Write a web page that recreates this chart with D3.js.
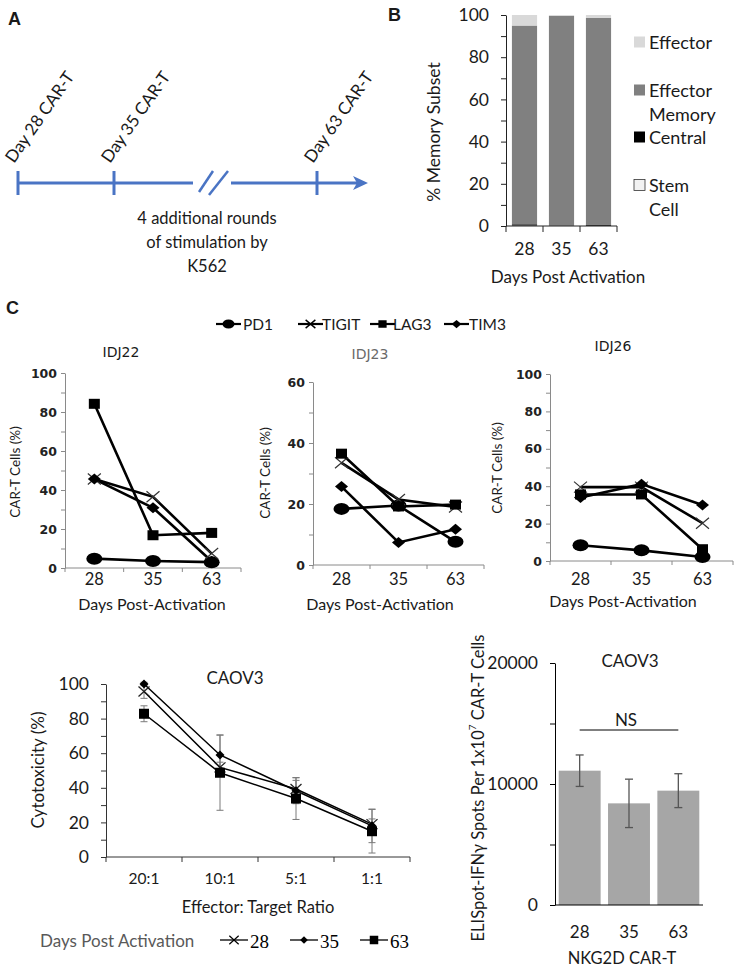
<!DOCTYPE html>
<html><head><meta charset="utf-8">
<script src="https://cdn.jsdelivr.net/npm/d3@7"></script>
<style>body{margin:0;background:#fff} svg{display:block}</style>
</head><body><svg id="fig" width="736" height="967"></svg>
<script>
// ---------- DATA ----------
const timelineLabels = ["Day 28 CAR-T", "Day 35 CAR-T", "Day 63 CAR-T"];
const timelineNote = ["4 additional rounds", "of stimulation by", "K562"];

const subsetDays = ["28", "35", "63"];
const subsetNames = ["Stem Cell", "Central", "Effector Memory", "Effector"];
const stemCell = [0.2, 0.1, 0.1];
const central = [0.6, 0.2, 0.6];
const effectorMemory = [94.2, 99.3, 97.9];
const effector = [5.0, 0.4, 1.4];

const exhaustDays = ["28", "35", "63"];
const exhaustMarkers = ["PD1", "TIGIT", "LAG3", "TIM3"];
const idj22PD1 = [4.8, 3.6, 3.0];
const idj22TIGIT = [45.6, 36.5, 7.4];
const idj22LAG3 = [84.2, 16.8, 18.0];
const idj22TIM3 = [45.6, 30.9, 3.5];
const idj23PD1 = [18.4, 19.5, 7.6];
const idj23TIGIT = [33.5, 21.5, 19.0];
const idj23LAG3 = [36.5, 19.2, 19.8];
const idj23TIM3 = [25.7, 7.4, 11.7];
const idj26PD1 = [8.4, 5.7, 2.1];
const idj26TIGIT = [39.5, 39.5, 20.2];
const idj26LAG3 = [35.6, 35.6, 6.3];
const idj26TIM3 = [34.0, 41.1, 30.0];

const ratios = ["20:1", "10:1", "5:1", "1:1"];
const cytoDays = ["28", "35", "63"];
const cyto28 = [95.7, 51.8, 39.3, 19.0];
const cyto28Err = [4.0, 3.0, 5.0, 3.0];
const cyto35 = [100.0, 59.0, 38.3, 18.0];
const cyto35Err = [1.0, 11.6, 7.5, 9.7];
const cyto63 = [82.8, 48.7, 33.8, 14.9];
const cyto63Err = [4.6, 21.7, 12.1, 12.6];

const elispotDays = ["28", "35", "63"];
const elispotMean = [11100, 8400, 9450];
const elispotErr = [1300, 2000, 1400];

// ---------- HELPERS ----------
const svg = d3.select("#fig");
svg.append("rect").attr("width", 736).attr("height", 967).attr("fill", "#fff");
const SANS = "Lato, 'Open Sans', sans-serif";
const VERD = "'DejaVu Sans', sans-serif";

function txt(g, x, y, s, o = {}) {
  return g.append("text").attr("x", x).attr("y", y).text(s)
    .attr("font-family", o.font || SANS).attr("font-size", o.size || 16)
    .attr("font-weight", o.weight || "normal")
    .attr("fill", o.fill || "#1a1a1a").attr("text-anchor", o.anchor || "middle")
    .attr("dominant-baseline", o.baseline || "auto");
}
function vtxt(g, x, y, s, o = {}) {
  return g.append("text").attr("transform", `translate(${x},${y}) rotate(-90)`).text(s)
    .attr("font-family", o.font || SANS).attr("font-size", o.size || 16)
    .attr("fill", o.fill || "#1a1a1a").attr("text-anchor", "middle")
    .attr("dominant-baseline", "central");
}
function leftAxis(g, y, x0, ticks, labelEvery, o) {
  const ax = d3.axisLeft(y).tickValues(ticks)
    .tickFormat(d => (d % labelEvery === 0 ? d : ""))
    .tickSize(o.tickSize || 5).tickPadding(o.pad || 4).tickSizeOuter(0);
  const a = g.append("g").attr("transform", `translate(${x0},0)`).call(ax);
  a.attr("font-family", o.font || SANS).attr("font-size", o.size || 16);
  a.select(".domain").attr("stroke", o.color).attr("stroke-width", o.sw || 1);
  a.selectAll(".tick line").attr("stroke", o.color).attr("stroke-width", o.sw || 1);
  a.selectAll(".tick text").attr("fill", o.fill || "#1a1a1a").attr("font-weight", o.weight || "normal");
  return a;
}
function bandAxis(g, x, y0, o) {
  const r = x.range();
  g.append("line").attr("x1", r[0]).attr("x2", r[1]).attr("y1", y0).attr("y2", y0)
    .attr("stroke", o.color).attr("stroke-width", o.sw || 1);
  const gap = (x.step() - x.bandwidth()) / 2;
  const bounds = x.domain().map(d => x(d) - gap).concat([r[1]]);
  g.selectAll(null).data(bounds).enter().append("line")
    .attr("x1", d => d).attr("x2", d => d).attr("y1", y0).attr("y2", y0 + (o.tick || 5))
    .attr("stroke", o.color).attr("stroke-width", o.sw || 1);
  x.domain().forEach(d => txt(g, x(d) + x.bandwidth() / 2, o.labelY, d,
    { size: o.size || 16, font: o.font || SANS, baseline: "central" }));
}
function marker(g, type, cx, cy, w, h, o = {}) {
  const col = o.color || "#000";
  if (type === "circle") {
    g.append("ellipse").attr("cx", cx).attr("cy", cy).attr("rx", w / 2).attr("ry", h / 2).attr("fill", col);
  } else if (type === "square") {
    g.append("rect").attr("x", cx - w / 2).attr("y", cy - h / 2).attr("width", w).attr("height", h).attr("fill", col);
  } else if (type === "diamond") {
    g.append("path").attr("d", `M${cx - w / 2},${cy}L${cx},${cy - h / 2}L${cx + w / 2},${cy}L${cx},${cy + h / 2}Z`).attr("fill", col);
  } else if (type === "x") {
    g.append("path").attr("d", `M${cx - w / 2},${cy - h / 2}L${cx + w / 2},${cy + h / 2}M${cx - w / 2},${cy + h / 2}L${cx + w / 2},${cy - h / 2}`)
      .attr("stroke", o.xColor || "#333").attr("stroke-width", o.xw || 1.2).attr("fill", "none");
  }
}

// ---------- PANEL A ----------
const gA = svg.append("g");
txt(gA, 8, 25, "A", { font: "'Liberation Sans', Arial, sans-serif", size: 18, weight: "bold", anchor: "start" });
const blue = "#4a74c4";
const tlY = 183;
const tlTicks = [18, 114, 317];
const tl = d3.scaleOrdinal().domain(timelineLabels).range(tlTicks);
gA.append("line").attr("x1", tlTicks[0]).attr("x2", 193).attr("y1", tlY).attr("y2", tlY).attr("stroke", blue).attr("stroke-width", 3);
gA.append("line").attr("x1", 231).attr("x2", 360).attr("y1", tlY).attr("y2", tlY).attr("stroke", blue).attr("stroke-width", 3);
gA.append("path").attr("d", `M368,${tlY}L353,${tlY - 7}L357,${tlY}L353,${tlY + 7}Z`).attr("fill", blue);
gA.append("line").attr("x1", 199).attr("y1", 192).attr("x2", 213).attr("y2", 171).attr("stroke", blue).attr("stroke-width", 2.5);
gA.append("line").attr("x1", 209).attr("y1", 195).attr("x2", 228).attr("y2", 171).attr("stroke", blue).attr("stroke-width", 2.5);
timelineLabels.forEach(l => {
  const x = tl(l);
  gA.append("line").attr("x1", x).attr("x2", x).attr("y1", tlY - 12).attr("y2", tlY + 12).attr("stroke", blue).attr("stroke-width", 3);
  gA.append("text").attr("transform", `translate(${x - 4},${164}) rotate(-55)`).text(l)
    .attr("font-family", SANS).attr("font-size", 17).attr("fill", "#1a1a1a");
});
timelineNote.forEach((l, i) => txt(gA, 207, 224 + i * 24, l, { size: 16.5 }));

// ---------- PANEL B ----------
const gB = svg.append("g");
txt(gB, 388, 21, "B", { font: "'Liberation Sans', Arial, sans-serif", size: 18, weight: "bold", anchor: "start" });
const yB = d3.scaleLinear().domain([0, 100]).range([226, 15]);
const xB = d3.scaleBand().domain(subsetDays).range([506, 617]).paddingInner(0.32).paddingOuter(0.16);
const subsetSeries = [stemCell, central, effectorMemory, effector];
const subsetColors = ["#f2f2f2", "#000000", "#808080", "#d9d9d9"];
subsetDays.forEach((d, i) => {
  let base = 0;
  subsetSeries.forEach((s, k) => {
    gB.append("rect").attr("x", xB(d)).attr("width", xB.bandwidth())
      .attr("y", yB(base + s[i])).attr("height", yB(base) - yB(base + s[i]))
      .attr("fill", subsetColors[k]);
    base += s[i];
  });
});
leftAxis(gB, yB, 506, d3.range(0, 101, 10), 20, { color: "#222", size: 17.5, tickSize: 5, pad: 12 });
bandAxis(gB, xB, 226, { color: "#222", labelY: 248, size: 17.5, tick: 6 });
vtxt(gB, 433, 132, "% Memory Subset", { size: 17.5 });
txt(gB, 568, 276, "Days Post Activation", { size: 17, baseline: "central" });
const legB = [
  { name: subsetNames[3], lines: ["Effector"], y: 42, c: subsetColors[3] },
  { name: subsetNames[2], lines: ["Effector", "Memory"], y: 90, c: subsetColors[2] },
  { name: subsetNames[1], lines: ["Central"], y: 137, c: subsetColors[1] },
  { name: subsetNames[0], lines: ["Stem", "Cell"], y: 185, c: subsetColors[0] }
];
legB.forEach(l => {
  gB.append("rect").attr("x", 634).attr("y", l.y - 5.5).attr("width", 11).attr("height", 11)
    .attr("fill", l.c).attr("stroke", l.c === "#f2f2f2" ? "#333" : "none").attr("stroke-width", 0.8);
  l.lines.forEach((s, j) => txt(gB, 649, l.y + j * 24, s, { size: 18, anchor: "start", baseline: "central" }));
});

// ---------- PANEL C ----------
const gC = svg.append("g");
txt(gC, 6, 314, "C", { font: "'Liberation Sans', Arial, sans-serif", size: 18, weight: "bold", anchor: "start" });
const markerType = { PD1: "circle", TIGIT: "x", LAG3: "square", TIM3: "diamond" };
const markerSize = { circle: [16, 12], x: [13, 11], square: [11, 10], diamond: [13, 11] };
// legend
const legC = [[216, 243], [298, 322], [370, 393], [444, 469]];
exhaustMarkers.forEach((m, i) => {
  const [x0, tx] = legC[i];
  gC.append("line").attr("x1", x0).attr("x2", x0 + 25).attr("y1", 324).attr("y2", 324).attr("stroke", "#000").attr("stroke-width", 2.2);
  const t = markerType[m];
  const s = markerSize[t];
  marker(gC, t, x0 + 12.5, 324, s[0] * 0.75, s[1] * 0.75, { xColor: "#000", xw: 1.4 });
  txt(gC, tx, 324, m, { size: 15.5, anchor: "start", baseline: "central" });
});

function idjPanel(cfg) {
  const g = gC.append("g");
  const x = d3.scaleBand().domain(exhaustDays).range(cfg.xr).padding(0);
  const y = d3.scaleLinear().domain([0, cfg.ymax]).range(cfg.yr);
  const cx = d => x(d) + x.bandwidth() / 2;
  leftAxis(g, y, cfg.xr[0], d3.range(0, cfg.ymax + 1, 10), 20,
    { color: "#8a8a8a", font: VERD, size: 12.5, tickSize: 4, pad: 4, fill: "#222", weight: "bold" });
  bandAxis(g, x, cfg.yr[0], { color: "#8a8a8a", labelY: 579, size: 16.5, tick: 4 });
  const line = d3.line().x((d, i) => cx(exhaustDays[i])).y(d => y(d));
  cfg.series.forEach(s => g.append("path").attr("d", line(s)).attr("fill", "none").attr("stroke", "#000").attr("stroke-width", 2.6));
  cfg.series.forEach((s, k) => {
    const t = markerType[exhaustMarkers[k]];
    const sz = markerSize[t];
    s.forEach((v, i) => marker(g, t, cx(exhaustDays[i]), y(v), sz[0], sz[1]));
  });
  txt(g, cfg.title[1], cfg.title[2], cfg.title[0], { font: VERD, size: 14, fill: cfg.titleColor || "#1a1a1a", baseline: "central" });
  vtxt(g, cfg.ylab[0], cfg.ylab[1], "CAR-T Cells (%)", { size: 13.5, fill: "#1a1a1a" });
  txt(g, cfg.xlab[0], cfg.xlab[1], "Days Post-Activation", { size: 16, baseline: "central" });
}
idjPanel({ xr: [65, 241], yr: [568, 373], ymax: 100, series: [idj22PD1, idj22TIGIT, idj22LAG3, idj22TIM3],
  title: ["IDJ22", 121, 352], ylab: [15, 472], xlab: [152, 603] });
idjPanel({ xr: [313, 484], yr: [565, 382], ymax: 60, series: [idj23PD1, idj23TIGIT, idj23LAG3, idj23TIM3],
  title: ["IDJ23", 370, 354], titleColor: "#6a6a6a", ylab: [265, 473], xlab: [380, 603] });
idjPanel({ xr: [550, 733], yr: [561, 374], ymax: 100, series: [idj26PD1, idj26TIGIT, idj26LAG3, idj26TIM3],
  title: ["IDJ26", 613, 346], ylab: [497, 468], xlab: [623, 600] });

// ---------- CYTOTOXICITY ----------
const gD = svg.append("g");
const xD = d3.scaleBand().domain(ratios).range([106, 410]).padding(0);
const yD = d3.scaleLinear().domain([0, 100]).range([857, 684]);
const cxD = d => xD(d) + xD.bandwidth() / 2;
leftAxis(gD, yD, 106, d3.range(0, 101, 10), 20, { color: "#333", size: 17.5, tickSize: 5, pad: 12 });
bandAxis(gD, xD, 857, { color: "#333", labelY: 878, size: 15.5, tick: 5 });
const cytoSeries = [cyto28, cyto35, cyto63];
const cytoErrs = [cyto28Err, cyto35Err, cyto63Err];
const cytoMarker = ["x", "diamond", "square"];
const cytoSize = [[11, 10], [9, 9], [10, 10]];
cytoSeries.forEach((s, k) => s.forEach((v, i) => {
  const x = cxD(ratios[i]), e = cytoErrs[k][i];
  gD.append("line").attr("x1", x).attr("x2", x).attr("y1", yD(v - e)).attr("y2", yD(v + e)).attr("stroke", "#7a7a7a").attr("stroke-width", 1);
  [v - e, v + e].forEach(b => gD.append("line").attr("x1", x - 3.5).attr("x2", x + 3.5).attr("y1", yD(b)).attr("y2", yD(b)).attr("stroke", "#7a7a7a").attr("stroke-width", 1));
}));
const lineD = d3.line().x((d, i) => cxD(ratios[i])).y(d => yD(d));
cytoSeries.forEach(s => gD.append("path").attr("d", lineD(s)).attr("fill", "none").attr("stroke", "#000").attr("stroke-width", 1.5));
cytoSeries.forEach((s, k) => s.forEach((v, i) => marker(gD, cytoMarker[k], cxD(ratios[i]), yD(v), cytoSize[k][0], cytoSize[k][1], { xColor: "#222", xw: 1.3 })));
txt(gD, 235, 677, "CAOV3", { size: 17, baseline: "central" });
vtxt(gD, 37, 770, "Cytotoxicity (%)", { size: 17 });
txt(gD, 258, 907, "Effector: Target Ratio", { size: 16.5, baseline: "central" });
txt(gD, 40, 940, "Days Post Activation", { size: 17, anchor: "start", baseline: "central", fill: "#595959" });
const legD = [220, 290, 360];
cytoDays.forEach((d, k) => {
  const x0 = legD[k];
  gD.append("line").attr("x1", x0).attr("x2", x0 + 28).attr("y1", 940).attr("y2", 940).attr("stroke", "#000").attr("stroke-width", 1.3);
  marker(gD, cytoMarker[k], x0 + 14, 940, cytoSize[k][0] * 0.85, cytoSize[k][1] * 0.85, { xColor: "#000", xw: 1.2 });
  txt(gD, x0 + 30, 941, d, { font: "'Liberation Serif', 'Times New Roman', serif", size: 19, anchor: "start", baseline: "central", fill: "#000" });
});

// ---------- ELISPOT ----------
const gE = svg.append("g");
const xE = d3.scaleBand().domain(elispotDays).range([555, 703]).paddingInner(0.15).paddingOuter(0.075);
const yE = d3.scaleLinear().domain([0, 20000]).range([905, 663]);
gE.selectAll(null).data(elispotMean).enter().append("rect")
  .attr("x", (d, i) => xE(elispotDays[i])).attr("width", xE.bandwidth())
  .attr("y", d => yE(d)).attr("height", d => yE(0) - yE(d)).attr("fill", "#a6a6a6");
elispotMean.forEach((v, i) => {
  const x = xE(elispotDays[i]) + xE.bandwidth() / 2, e = elispotErr[i];
  gE.append("line").attr("x1", x).attr("x2", x).attr("y1", yE(v - e)).attr("y2", yE(v + e)).attr("stroke", "#555").attr("stroke-width", 1.3);
  [v - e, v + e].forEach(b => gE.append("line").attr("x1", x - 4).attr("x2", x + 4).attr("y1", yE(b)).attr("y2", yE(b)).attr("stroke", "#555").attr("stroke-width", 1.3));
});
leftAxis(gE, yE, 555, d3.range(0, 20001, 5000), 10000, { color: "#000", size: 17.5, tickSize: 5, pad: 12 });
gE.append("line").attr("x1", 555).attr("x2", 703).attr("y1", 905).attr("y2", 905).attr("stroke", "#000");
elispotDays.forEach(d => txt(gE, xE(d) + xE.bandwidth() / 2, 931, d, { size: 17, baseline: "central" }));
txt(gE, 622, 958, "NKG2D CAR-T", { size: 16.5, baseline: "central" });
txt(gE, 630, 660, "CAOV3", { size: 17, baseline: "central" });
gE.append("line").attr("x1", xE(elispotDays[0]) + xE.bandwidth() / 2).attr("x2", xE(elispotDays[2]) + xE.bandwidth() / 2)
  .attr("y1", 730).attr("y2", 730).attr("stroke", "#000").attr("stroke-width", 1);
txt(gE, 626, 719, "NS", { size: 17, baseline: "central" });
const yl = gE.append("text").attr("transform", "translate(478,788) rotate(-90)")
  .attr("font-family", SANS).attr("font-size", 16.5).attr("fill", "#1a1a1a").attr("text-anchor", "middle").attr("dominant-baseline", "central");
yl.append("tspan").text("ELISpot-IFNγ Spots Per 1x10");
yl.append("tspan").text("7").attr("font-size", 10).attr("dy", -6);
yl.append("tspan").text(" CAR-T Cells").attr("dy", 6);
</script></body></html>
